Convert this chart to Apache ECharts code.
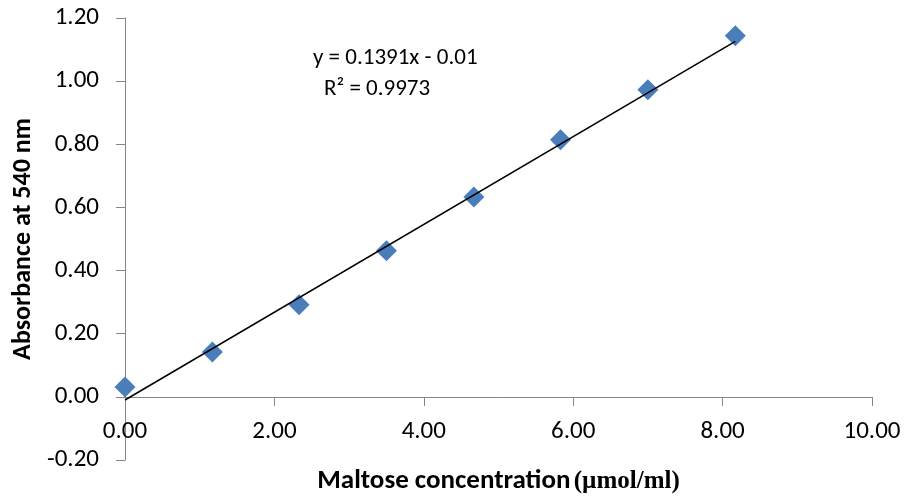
<!DOCTYPE html>
<html>
<head>
<meta charset="utf-8">
<script src="https://cdn.jsdelivr.net/npm/echarts@6/dist/echarts.min.js"></script>
<style>html,body{margin:0;padding:0;background:#fff}#c{width:909px;height:501px}</style>
</head>
<body>
<div id="c"></div>
<script>
var concentration = [0.00, 1.17, 2.33, 3.50, 4.67, 5.83, 7.00, 8.17];
var absorbance = [0.031, 0.142, 0.292, 0.463, 0.633, 0.814, 0.973, 1.144];
var trendX = [0.00, 8.17];
var trendY = [-0.010, 1.126];
var equationText = 'y = 0.1391x - 0.01';
var r2Text = 'R² = 0.9973';
var xTitle = 'Maltose concentration';
var xTitleUnit = '(µmol/ml)';
var yTitle = 'Absorbance at 540 nm';

var FONT = 'Carlito, Lato, sans-serif';
var chart = echarts.init(document.getElementById('c'));
chart.setOption({
  backgroundColor: '#ffffff',
  animation: false,
  grid: {left: 125, right: 37, top: 18, bottom: 41, containLabel: false, outerBoundsMode: 'none'},
  xAxis: {
    type: 'value', min: 0, max: 10, interval: 2,
    offset: -63,
    axisLine: {onZero: false, lineStyle: {color: '#868686', width: 1}},
    axisTick: {show: true, length: 9, lineStyle: {color: '#868686'}},
    splitLine: {show: false},
    axisLabel: {margin: 22, color: '#000', fontFamily: FONT, fontSize: 25,
      formatter: function (v) { return v.toFixed(2); }},
    name: '{a|' + xTitle + '} {b|' + xTitleUnit + '}',
    nameLocation: 'middle', nameGap: 71, nameMoveOverlap: false,
    nameTextStyle: {rich: {
      a: {fontFamily: FONT, fontWeight: 'bold', fontSize: 27, color: '#000'},
      b: {fontFamily: '"Liberation Serif", serif', fontWeight: 'bold', fontSize: 25, color: '#000'}
    }}
  },
  yAxis: {
    type: 'value', min: -0.2, max: 1.2, interval: 0.2,
    axisLine: {show: true, onZero: false, lineStyle: {color: '#868686', width: 1}},
    axisTick: {show: true, length: 9, lineStyle: {color: '#868686'}},
    splitLine: {show: false},
    axisLabel: {margin: 26, color: '#000', fontFamily: FONT, fontSize: 25,
      formatter: function (v) { return v.toFixed(2); }},
    name: yTitle, nameLocation: 'middle', nameGap: 89, nameMoveOverlap: false,
    nameTextStyle: {fontFamily: FONT, fontWeight: 'bold', fontSize: 26, color: '#000'}
  },
  series: [
    {
      type: 'scatter', symbol: 'diamond', symbolSize: 21,
      itemStyle: {color: '#4A7EBB', opacity: 1},
      data: concentration.map(function (x, i) { return [x, absorbance[i]]; }),
      z: 2
    },
    {
      type: 'line', symbol: 'none', silent: true,
      lineStyle: {color: '#000', width: 1.5},
      data: trendX.map(function (x, i) { return [x, trendY[i]]; }),
      z: 3
    }
  ],
  graphic: [
    {type: 'text', left: 313, top: 47, style: {text: equationText, font: '23px ' + FONT, fill: '#000'}},
    {type: 'text', left: 324, top: 78, style: {text: r2Text, font: '23px ' + FONT, fill: '#000'}}
  ]
});
</script>
</body>
</html>
